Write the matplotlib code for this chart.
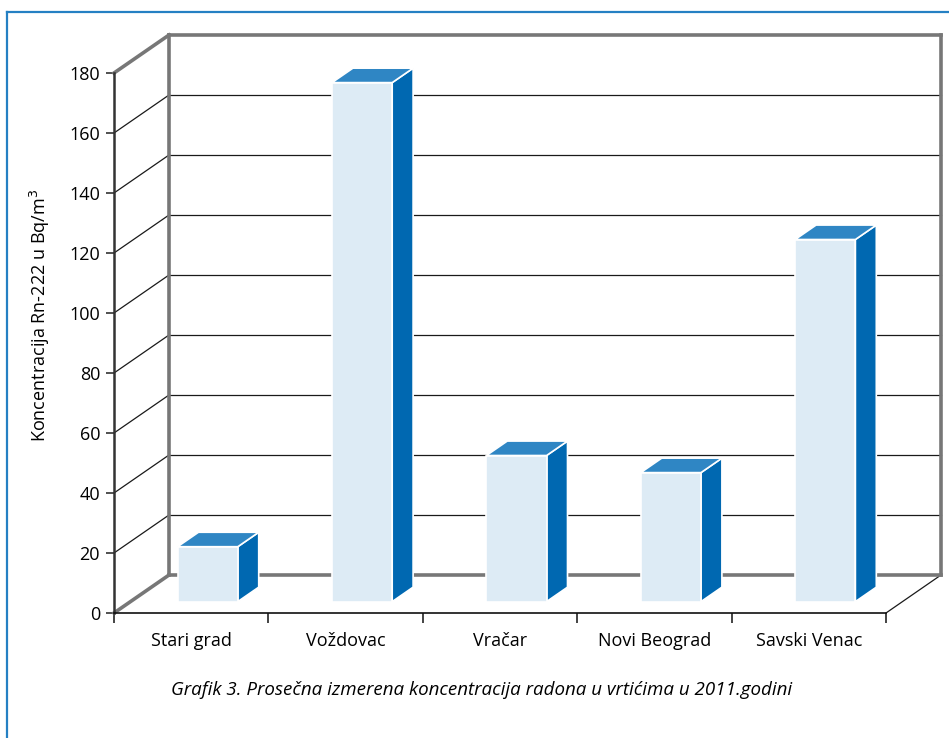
import matplotlib
matplotlib.use("Agg")
import matplotlib.pyplot as plt
from matplotlib.patches import Polygon
from matplotlib.lines import Line2D

plt.rcParams['font.family'] = ['Open Sans', 'DejaVu Sans']

# Data
categories = ["Stari grad", "Voždovac", "Vračar", "Novi Beograd", "Savski Venac"]
values = [18.3, 173, 48.7, 43, 120.7]
y_ticks = [0, 20, 40, 60, 80, 100, 120, 140, 160, 180]
y_label = "Koncentracija Rn-222 u Bq/m$^3$"
caption = "Grafik 3. Prosečna izmerena koncentracija radona u vrtićima u 2011.godini"

W, H = 949, 738
fig = plt.figure(figsize=(W / 100, H / 100), dpi=100)
ax = fig.add_axes([114 / W, (H - 613) / H, 772 / W, 540 / H])
ax.set_xlim(0, len(categories))
ax.set_ylim(0, 180)

# depth offset of the back wall, in data units
DX = 55 / (772 / len(categories))
DY = 38 / 3.0

wall = dict(color="#777777", lw=2.6, clip_on=False, solid_capstyle="projecting", zorder=2)
grid = dict(color="#1a1a1a", lw=0.9, clip_on=False, zorder=1)
n = len(categories)

# back wall frame
ax.plot([DX, DX], [DY, 180 + DY], **wall)
ax.plot([DX, n + DX], [180 + DY, 180 + DY], **wall)
ax.plot([n + DX, n + DX], [DY, 180 + DY], **wall)
ax.plot([DX, n + DX], [DY, DY], **wall)
ax.plot([0, DX], [0, DY], **wall)
ax.plot([0, DX], [180, 180 + DY], **wall)
ax.plot([n, n + DX], [0, DY], **grid)

# grid lines on back and side walls
for v in y_ticks[1:-1]:
    ax.plot([DX, n + DX], [v + DY, v + DY], **grid)
    ax.plot([0, DX], [v, v + DY], **grid)

# 3D-looking bars
front_c, top_c, side_c = "#ddebf5", "#2f86c4", "#0068b1"
hw, d0, d1 = 0.195, 0.3, 0.68
for i, v in enumerate(values):
    xc = i + 0.5
    xl0, xr0 = xc - hw + d0 * DX, xc + hw + d0 * DX
    xl1, xr1 = xc - hw + d1 * DX, xc + hw + d1 * DX
    b0, b1 = d0 * DY, d1 * DY
    front = [(xl0, b0), (xr0, b0), (xr0, v + b0), (xl0, v + b0)]
    side = [(xr0, b0), (xr1, b1), (xr1, v + b1), (xr0, v + b0)]
    top = [(xl0, v + b0), (xr0, v + b0), (xr1, v + b1), (xl1, v + b1)]
    for pts, c in ((side, side_c), (top, top_c), (front, front_c)):
        ax.add_patch(Polygon(pts, closed=True, facecolor=c, edgecolor="white",
                             lw=1.2, clip_on=False, zorder=5))

# axes
for s in ("top", "right"):
    ax.spines[s].set_visible(False)
ax.spines["left"].set_color("#333333")
ax.spines["left"].set_linewidth(1.8)
ax.spines["bottom"].set_color("#111111")
ax.spines["bottom"].set_linewidth(1.2)
ax.spines["left"].set_zorder(6)
ax.spines["bottom"].set_zorder(6)
ax.set_facecolor("none")

ax.set_yticks(y_ticks)
ax.set_yticklabels([str(t) for t in y_ticks])
ax.tick_params(axis="y", direction="out", length=6, width=1.2, color="#333333",
               labelsize=13, pad=4)
ax.set_xticks(range(n + 1))
ax.set_xticklabels([""] * (n + 1))
ax.set_xticks([i + 0.5 for i in range(n)], minor=True)
ax.set_xticklabels(categories, minor=True)
ax.tick_params(axis="x", which="major", direction="out", length=7, width=1.1, color="#111111")
ax.tick_params(axis="x", which="minor", length=0, labelsize=13, pad=14)

fig.text(40 / W, 1 - 315 / H, y_label, rotation=90, ha="center", va="center", fontsize=13)
fig.text(482 / W, 1 - 690 / H, caption, style="italic", ha="center", va="center", fontsize=13.5)

# outer blue frame (top and left edges)
fig.add_artist(Line2D([7 / W, 7 / W], [0, 1 - 12 / H], transform=fig.transFigure,
                      color="#2580c3", lw=1.6))
fig.add_artist(Line2D([7 / W, 1], [1 - 12 / H, 1 - 12 / H], transform=fig.transFigure,
                      color="#2580c3", lw=1.6))

fig.savefig("out.png", dpi=100)
